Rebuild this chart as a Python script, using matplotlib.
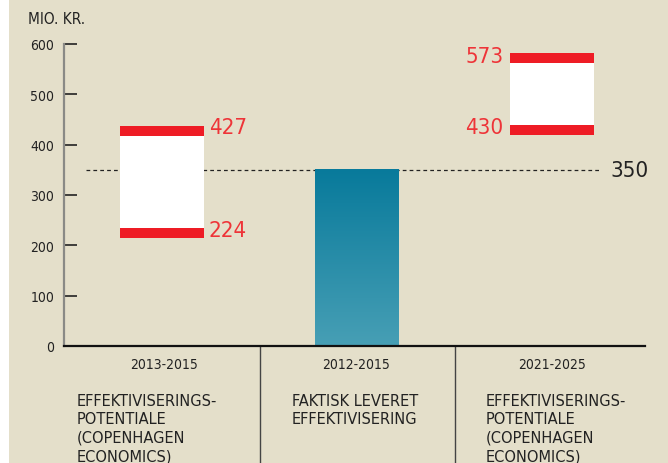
import numpy as np
import matplotlib.pyplot as plt
from matplotlib.patches import Rectangle
from matplotlib.colors import LinearSegmentedColormap

plt.rcParams['font.family'] = ['DejaVu Sans']
plt.rcParams['font.stretch'] = 'condensed'

# data
periods = ['2013-2015', '2012-2015', '2021-2025']
descriptions = [
    ['EFFEKTIVISERINGS-', 'POTENTIALE', '(COPENHAGEN', 'ECONOMICS)'],
    ['FAKTISK LEVERET', 'EFFEKTIVISERING'],
    ['EFFEKTIVISERINGS-', 'POTENTIALE', '(COPENHAGEN', 'ECONOMICS)'],
]
low = [224, None, 430]
high = [427, None, 573]
delivered = 350
yticks = [0, 100, 200, 300, 400, 500, 600]

bg = '#e4dfca'
red = '#ee1c25'
red_txt = '#ee3438'
dark = '#222222'

W, H = 668, 464
fig = plt.figure(figsize=(W / 100, H / 100), dpi=100, facecolor=bg)
fig.patches.append(Rectangle((0, 0), 9 / W, 1, transform=fig.transFigure,
                             facecolor='white', edgecolor='none', zorder=0))

x0, x1, yb, yt = 64, 645, 347, 45
ax = fig.add_axes([x0 / W, 1 - yb / H, (x1 - x0) / W, (yb - yt) / H])
ax.set_facecolor(bg)

bw = 0.43
band = 10
pos = np.arange(len(periods))

# potential boxes
for i in [0, 2]:
    ax.add_patch(Rectangle((pos[i] - bw / 2, low[i] - band), bw,
                           high[i] - low[i] + 2 * band,
                           facecolor='white', edgecolor='none', zorder=2))
    for v in (low[i], high[i]):
        ax.add_patch(Rectangle((pos[i] - bw / 2, v - band), bw, 2 * band,
                               facecolor=red, edgecolor='none', zorder=3))

# gradient bar
grad = np.linspace(0, 1, 256).reshape(-1, 1)
cmap = LinearSegmentedColormap.from_list('b', ['#087a9b', '#479fb5'])
ax.imshow(grad, cmap=cmap, aspect='auto', zorder=2, origin='upper',
          extent=[pos[1] - bw / 2, pos[1] + bw / 2, 0, delivered],
          interpolation='bilinear')
ax.set_xlim(-0.503, 2.477)
ax.set_ylim(0, 600)

# dashed line at 350
ax.plot([-0.39, 2.246], [delivered, delivered], color=dark, lw=0.9,
        ls=(0, (3, 2.5)), zorder=1)
ax.text(2.30, delivered, str(delivered), color=dark, fontsize=16,
        va='center', ha='left')

# value labels
ax.text(pos[0] + 0.24, high[0] + 8, str(high[0]), color=red_txt,
        fontsize=16, va='center', ha='left')
ax.text(pos[0] + 0.24, low[0] + 6, str(low[0]), color=red_txt,
        fontsize=16, va='center', ha='left')
ax.text(pos[2] - 0.25, high[2] + 4, str(high[2]), color=red_txt,
        fontsize=16, va='center', ha='right')
ax.text(pos[2] - 0.25, low[2] + 6, str(low[2]), color=red_txt,
        fontsize=16, va='center', ha='right')

# axes styling
for s in ['top', 'right']:
    ax.spines[s].set_visible(False)
ax.spines['left'].set_color('#8a8a86')
ax.spines['left'].set_linewidth(1.6)
ax.spines['bottom'].set_color('#111111')
ax.spines['bottom'].set_linewidth(1.6)
ax.set_xticks([])
ax.set_yticks(yticks)
ax.tick_params(axis='y', direction='in', length=9, width=1.2, color=dark,
               labelsize=10, labelcolor=dark, pad=7)

# separators
for sx in [0.5, 1.5]:
    ax.plot([sx, sx], [0, -240], color='#444444', lw=1, clip_on=False)

fig.text(28 / W, 1 - 20 / H, 'MIO. KR.', fontsize=11, color=dark,
         va='center', ha='left')

# labels under the axis
cx = [164, 356, 552]
dx = [77, 292, 486]
for i in range(3):
    fig.text(cx[i] / W, 1 - 365 / H, periods[i], fontsize=10, color=dark,
             ha='center', va='center')
    for j, line in enumerate(descriptions[i]):
        fig.text(dx[i] / W, 1 - (401.5 + j * 18.5) / H, line, fontsize=11.7,
                 color=dark, ha='left', va='center')

fig.savefig('out.png', dpi=100, facecolor=bg)
